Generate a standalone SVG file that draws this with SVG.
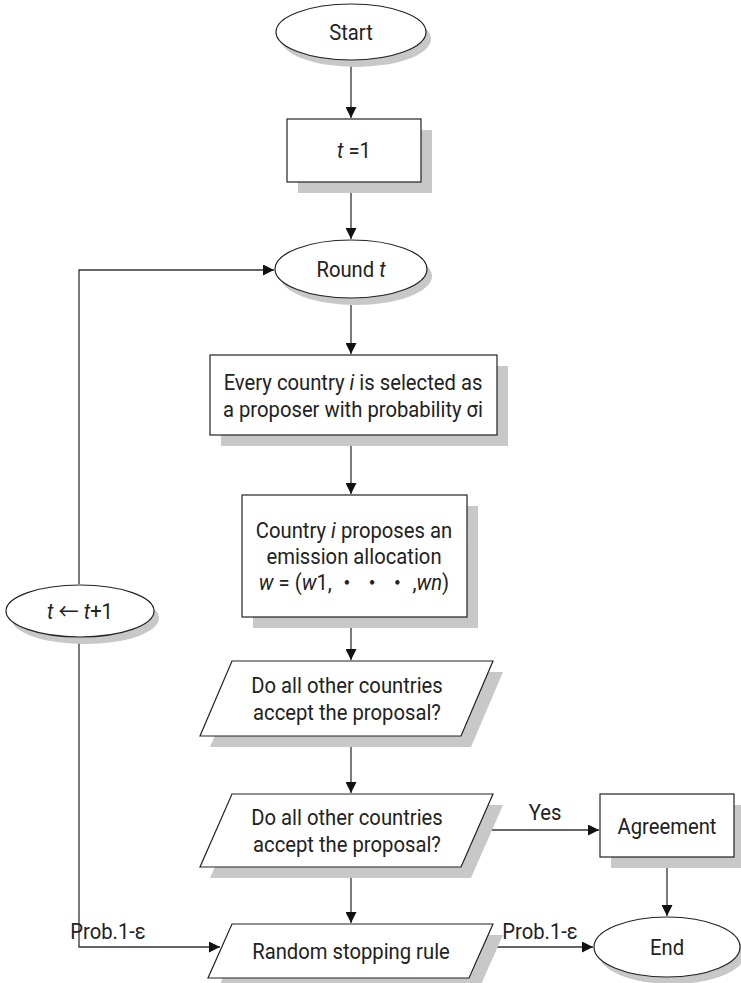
<svg xmlns="http://www.w3.org/2000/svg" width="741" height="983" viewBox="0 0 741 983">
  <defs>
    <marker id="arrow" viewBox="0 0 10 10" refX="10" refY="5" markerWidth="11" markerHeight="11" markerUnits="userSpaceOnUse" orient="auto">
      <path d="M0,0 L10,5 L0,10 Z" fill="#111"/>
    </marker>
    <style>
      .shape { fill: #fff; stroke: #222; stroke-width: 1.2; }
      .shadow { fill: #c8c8c8; stroke: none; }
      .edge { fill: none; stroke: #333; stroke-width: 1.3; marker-end: url(#arrow); }
      text { font-family: Roboto, "Open Sans", "Noto Sans CJK JP", sans-serif; font-size: 22px; fill: #222; text-anchor: middle;
             transform-box: fill-box; transform-origin: center; transform: scaleX(0.92); }
      .it { font-style: italic; }
    </style>
  </defs>
  <rect width="741" height="983" fill="#fff"/>

  <!-- connectors -->
  <g id="connectors">
    <line class="edge" x1="351" y1="60" x2="351" y2="118"/>
    <line class="edge" x1="351" y1="193" x2="351" y2="239"/>
    <line class="edge" x1="351" y1="305" x2="351" y2="354"/>
    <line class="edge" x1="351" y1="446" x2="351" y2="494"/>
    <line class="edge" x1="351" y1="628" x2="351" y2="660"/>
    <line class="edge" x1="351" y1="747" x2="351" y2="793"/>
    <line class="edge" x1="351" y1="878" x2="351" y2="923"/>
    <polyline class="edge" points="79,584 79,270 274,270"/>
    <polyline class="edge" points="79,638 79,947 220,947"/>
    <line class="edge" x1="477" y1="830" x2="599" y2="830"/>
    <line class="edge" x1="483" y1="947" x2="593" y2="947"/>
    <line class="edge" x1="667" y1="868" x2="667" y2="916"/>
    <text x="545" y="820">Yes</text>
    <text x="108" y="939">Prob.1-ε</text>
    <text x="540" y="939">Prob.1-ε</text>
  </g>

  <g id="start">
    <ellipse class="shadow" cx="356" cy="39" rx="75" ry="28"/>
    <ellipse class="shape" cx="351" cy="32" rx="75" ry="28"/>
    <text x="351" y="40">Start</text>
  </g>

  <g id="init">
    <rect class="shadow" x="298" y="130" width="134" height="63"/>
    <rect class="shape" x="287" y="119" width="134" height="63"/>
    <text x="354" y="158"><tspan class="it">t</tspan> =1</text>
  </g>

  <g id="round">
    <ellipse class="shadow" cx="356" cy="276" rx="76" ry="29"/>
    <ellipse class="shape" cx="351" cy="269" rx="76" ry="29"/>
    <text x="351" y="277">Round <tspan class="it">t</tspan></text>
  </g>

  <g id="select">
    <rect class="shadow" x="221" y="366" width="287" height="80"/>
    <rect class="shape" x="210" y="355" width="287" height="80"/>
    <text x="353" y="390">Every country <tspan class="it">i</tspan> is selected as</text>
    <text x="353" y="417">a proposer with probability σi</text>
  </g>

  <g id="propose">
    <rect class="shadow" x="253" y="506" width="225" height="122"/>
    <rect class="shape" x="242" y="495" width="225" height="122"/>
    <text x="354" y="538">Country <tspan class="it">i</tspan> proposes an</text>
    <text x="354" y="564">emission allocation</text>
    <text x="354" y="590"><tspan class="it">w</tspan> = (<tspan class="it">w</tspan>1, ・ ・ ・ ,<tspan class="it">wn</tspan>)</text>
  </g>

  <g id="increment">
    <ellipse class="shadow" cx="85" cy="618" rx="74" ry="26"/>
    <ellipse class="shape" cx="80" cy="611" rx="74" ry="26"/>
    <text x="80" y="619"><tspan class="it">t</tspan> ← <tspan class="it">t</tspan>+1</text>
  </g>

  <g id="vote1">
    <polygon class="shadow" points="242,672 503,672 471,747 210,747"/>
    <polygon class="shape" points="232,661 493,661 461,736 200,736"/>
    <text x="347" y="693">Do all other countries</text>
    <text x="347" y="720">accept the proposal?</text>
  </g>

  <g id="vote2">
    <polygon class="shadow" points="242,805 503,805 471,878 210,878"/>
    <polygon class="shape" points="232,794 493,794 461,867 200,867"/>
    <text x="347" y="825">Do all other countries</text>
    <text x="347" y="852">accept the proposal?</text>
  </g>

  <g id="agreement">
    <rect class="shadow" x="611" y="805" width="134" height="63"/>
    <rect class="shape" x="600" y="794" width="134" height="63"/>
    <text x="667" y="834">Agreement</text>
  </g>

  <g id="stopping">
    <polygon class="shadow" points="242,935 503,935 479,989 218,989"/>
    <polygon class="shape" points="232,924 493,924 469,978 208,978"/>
    <text x="351" y="959">Random stopping rule</text>
  </g>

  <g id="end">
    <ellipse class="shadow" cx="672" cy="954" rx="73" ry="30"/>
    <ellipse class="shape" cx="667" cy="947" rx="73" ry="30"/>
    <text x="667" y="955">End</text>
  </g>
</svg>
